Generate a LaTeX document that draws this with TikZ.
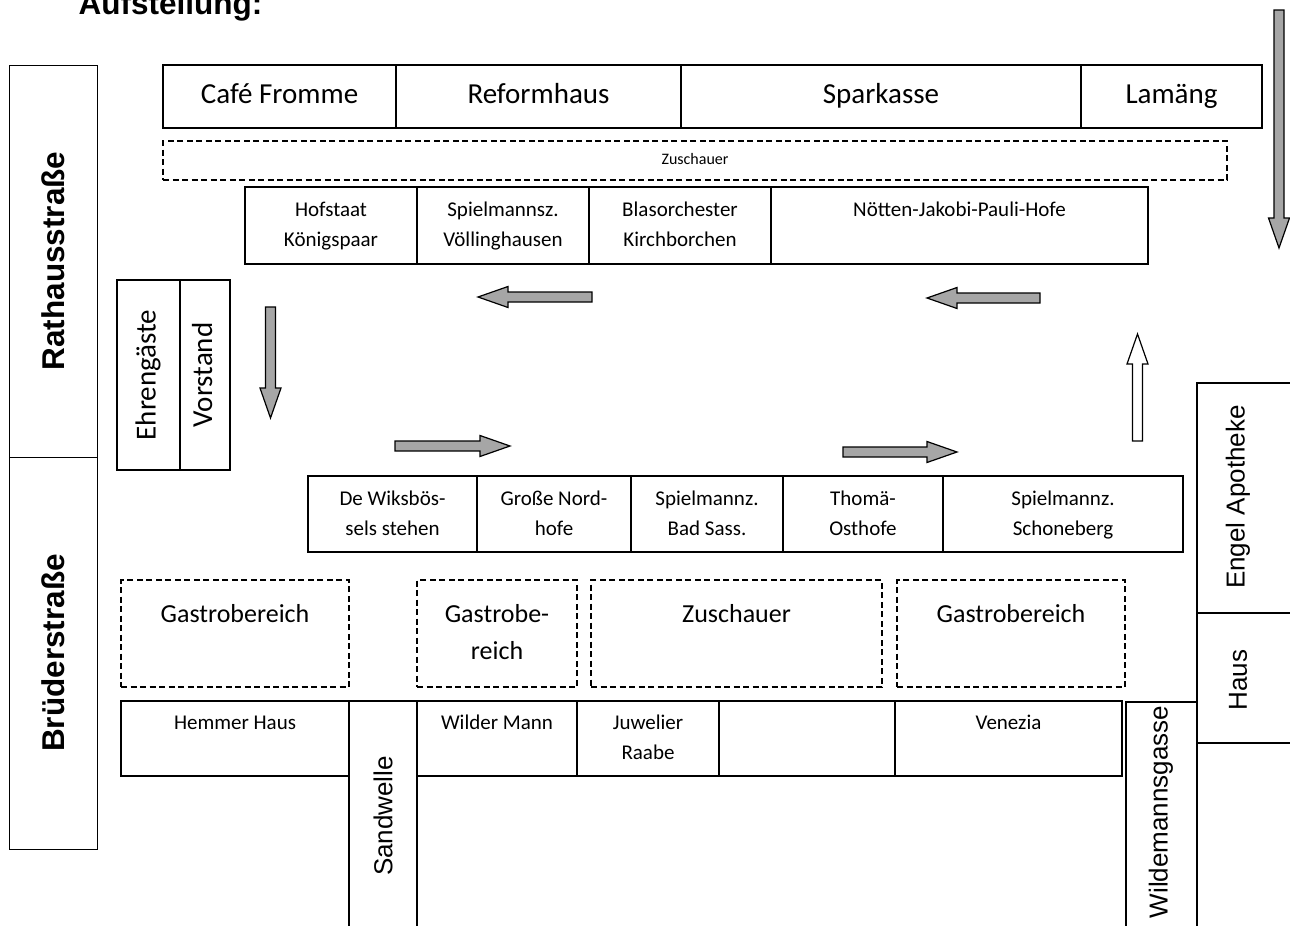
\documentclass[tikz,border=0pt]{standalone}
\usepackage{fontspec}
\newfontfamily\calibri{Carlito}
\newfontfamily\arial{Liberation Sans}
\definecolor{pfeilgrau}{RGB}{166,166,166}
\tikzset{
kasten/.style={
 draw=black, 
 line width=1.2pt, 
 inner sep=0pt, 
 outer sep=0pt, 
 align=center, 
 anchor=north west
 },
bereich/.style={
 kasten, 
 dash pattern=on 6pt off 3.5pt
 },
schriftK/.style={font=\calibri\fontsize{21}{30}\selectfont},
schriftG/.style={font=\calibri\fontsize{29}{35}\selectfont},
schriftM/.style={font=\calibri\fontsize{26}{37}\selectfont},
schriftW/.style={font=\calibri\fontsize{16}{18}\selectfont},
strasse/.style={font=\arial\fontsize{26}{30}\selectfont},
strasseB/.style={font=\arial\bfseries\fontsize{31.5}{36}\selectfont},
pfeil/.style={
 draw=black, 
 line width=1.2pt, 
 fill=#1, 
 line join=miter
 },
pfeil/.default={pfeilgrau},
pics/blockpfeil/.style args={#1/#2}{
 code={\path[pfeil=#2] (0,-5) -- (#1-30,-5) -- (#1-30,-10.5) -- (#1,0) 
  -- (#1-30,10.5) -- (#1-30,5) -- (0,5) -- cycle;}
 }
}
\begin{document}
\begin{tikzpicture}[x=1pt,y=-1pt]
\useasboundingbox (0,0) rectangle (1290,926);
\clip (0,0) rectangle (1290,926);
\node[strasseB,anchor=base west] (titel) at (75,14) {Aufstellung:};
% Strassen
\node[kasten,strasseB,line width=1pt,anchor=center,rotate=90,minimum width=392,minimum height=88] (rathaus) at (53,261) {Rathausstraße};
\node[kasten,strasseB,line width=1pt,anchor=center,rotate=90,minimum width=392,minimum height=88] (brueder) at (53,653) {Brüderstraße};
\node[kasten,minimum width=68,minimum height=240] (sandwelle) at (349,701) {};
\node[strasse,rotate=90] (sandwelleT) at (383,816) {Sandwelle};
\node[kasten,minimum width=71,minimum height=240] (wildgasse) at (1126,702) {};
\node[strasse,rotate=90] (wildgasseT) at (1161,812) {Wildemannsgasse};
\node[kasten,minimum width=110,minimum height=230] (engel) at (1197,383) {};
\node[strasse,rotate=90] (engelT) at (1238,497) {Engel Apotheke};
\node[kasten,minimum width=110,minimum height=130] (haus) at (1197,613) {};
\node[strasse,rotate=90] (hausT) at (1238,680) {Haus};
% Laeden oben
\node[kasten,schriftG,minimum width=233,minimum height=63] (cafe) at (163,65) {\strut Café Fromme};
\node[kasten,schriftG,minimum width=285,minimum height=63] (reform) at (396,65) {\strut Reformhaus};
\node[kasten,schriftG,minimum width=400,minimum height=63] (spark) at (681,65) {\strut Sparkasse};
\node[kasten,schriftG,minimum width=181,minimum height=63] (lamaeng) at (1081,65) {\strut Lamäng};
\node[bereich,schriftW,minimum width=1064,minimum height=39] (zuschauerO) at (163,141) {\strut Zuschauer};
% Gruppen oben
\node[kasten,schriftK,minimum width=172,minimum height=77] (hofstaat) at (245,187) {\strut Hofstaat\\\strut Königspaar};
\node[kasten,schriftK,minimum width=172,minimum height=77] (spielV) at (417,187) {\strut Spielmannsz.\\\strut Völlinghausen};
\node[kasten,schriftK,minimum width=182,minimum height=77] (blas) at (589,187) {\strut Blasorchester\\\strut Kirchborchen};
\node[kasten,schriftK,minimum width=377,minimum height=77] (noetten) at (771,187) {\strut Nötten-Jakobi-Pauli-Hofe\\\strut};
% Tribuene
\node[kasten,schriftG,anchor=center,rotate=90,minimum width=190,minimum height=63] (ehren) at (148.5,375) {\strut Ehrengäste};
\node[kasten,schriftG,anchor=center,rotate=90,minimum width=190,minimum height=50] (vorstand) at (205,375) {\strut Vorstand};
% Gruppen unten
\node[kasten,schriftK,minimum width=169,minimum height=76] (wiks) at (308,476) {\strut De Wiksbös-\\\strut sels stehen};
\node[kasten,schriftK,minimum width=154,minimum height=76] (nord) at (477,476) {\strut Große Nord-\\\strut hofe};
\node[kasten,schriftK,minimum width=152,minimum height=76] (sass) at (631,476) {\strut Spielmannz.\\\strut Bad Sass.};
\node[kasten,schriftK,minimum width=160,minimum height=76] (thoma) at (783,476) {\strut Thomä-\\\strut Osthofe};
\node[kasten,schriftK,minimum width=240,minimum height=76] (schone) at (943,476) {\strut Spielmannz.\\\strut Schoneberg};
% Bereiche
\node[bereich,schriftM,minimum width=228,minimum height=107] (gastroA) at (121,580) {\strut Gastrobereich\\\strut};
\node[bereich,schriftM,minimum width=160,minimum height=107] (gastroB) at (417,580) {\strut Gastrobe-\\\strut reich};
\node[bereich,schriftM,minimum width=291,minimum height=107] (zuschauerU) at (591,580) {\strut Zuschauer\\\strut};
\node[bereich,schriftM,minimum width=228,minimum height=107] (gastroC) at (897,580) {\strut Gastrobereich\\\strut};
% Laeden unten
\node[kasten,schriftK,minimum width=228,minimum height=75] (hemmer) at (121,701) {\strut Hemmer Haus\\\strut};
\node[kasten,schriftK,minimum width=160,minimum height=75] (wilder) at (417,701) {\strut Wilder Mann\\\strut};
\node[kasten,schriftK,minimum width=142,minimum height=75] (juwelier) at (577,701) {\strut Juwelier\\\strut Raabe};
\node[kasten,schriftK,minimum width=176,minimum height=75] (leer) at (719,701) {};
\node[kasten,schriftK,minimum width=227,minimum height=75] (venezia) at (895,701) {\strut Venezia\\\strut};
% Laufrichtung
\pic[rotate=180] at (592,297) {blockpfeil=114/pfeilgrau};
\pic[rotate=180] at (1040,298) {blockpfeil=113/pfeilgrau};
\pic[rotate=-90] at (270.5,307) {blockpfeil=111/pfeilgrau};
\pic at (395,446) {blockpfeil=115/pfeilgrau};
\pic at (843,452) {blockpfeil=114/pfeilgrau};
\pic[rotate=90] at (1137.5,441) {blockpfeil=107/white};
\pic[rotate=-90] at (1279,10) {blockpfeil=238/pfeilgrau};
\end{tikzpicture}
\end{document}
